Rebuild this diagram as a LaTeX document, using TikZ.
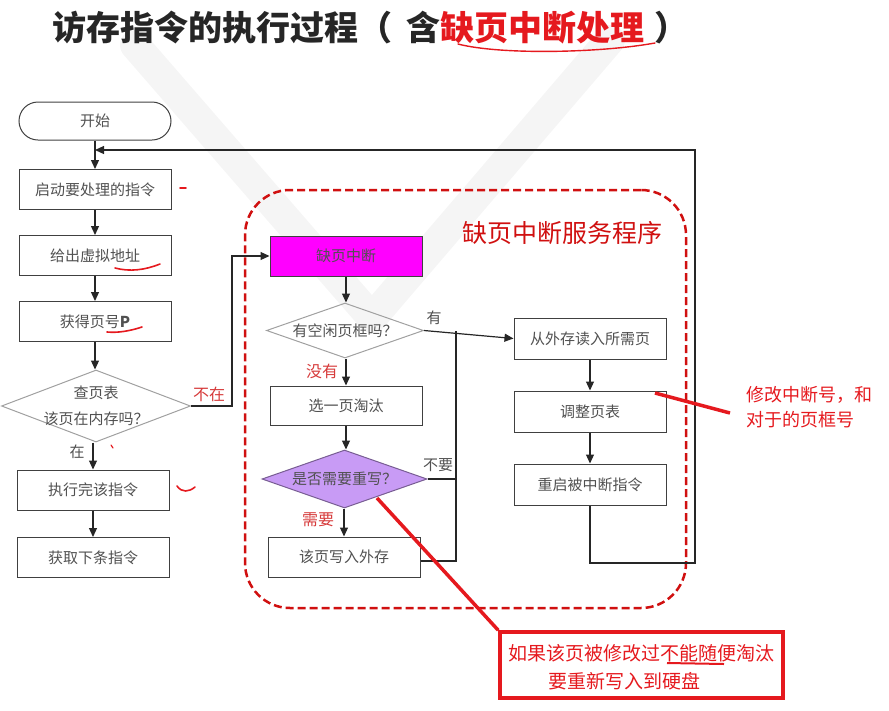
\documentclass[tikz,border=0pt]{standalone}
\usepackage{fontspec}
\newfontfamily\cjk{Noto Sans CJK SC}
\usetikzlibrary{shapes.geometric,arrows.meta}
\definecolor{boxtxt}{HTML}{505050}
\definecolor{boxline}{HTML}{404040}
\definecolor{dialine}{HTML}{A0A0A0}
\definecolor{annred}{HTML}{E5191E}
\definecolor{lblred}{HTML}{D63A3A}
\definecolor{dashred}{HTML}{D01010}
\definecolor{purp}{HTML}{C89BF5}
\definecolor{magbox}{HTML}{FF00FF}
\tikzset{
  box/.style={draw=boxline, line width=1pt, minimum width=152pt, minimum height=40pt, inner sep=0pt,
    font=\cjk\fontsize{15}{18}\selectfont, text=boxtxt},
  dia/.style={diamond, draw=dialine, line width=1pt, inner sep=0pt, aspect=2.6},
  diatxt/.style={font=\cjk\fontsize{15}{26}\selectfont, text=boxtxt, align=center, inner sep=0pt},
  conn/.style={line width=1.2pt, draw=black!85},
  arr/.style={conn, -{Triangle[length=9pt,width=8pt]}},
  lbl/.style={font=\cjk\fontsize{15}{18}\selectfont, text=boxtxt, inner sep=0pt},
  rlbl/.style={font=\cjk\fontsize{16}{18}\selectfont, text=lblred, inner sep=0pt},
  hand/.style={draw=annred, line width=1.6pt, line cap=round},
  ann/.style={font=\cjk\fontsize{19}{22}\selectfont, text=annred, inner sep=0pt},
}
\begin{document}
\begin{tikzpicture}[x=1pt,y=-1pt]
\useasboundingbox (0,0) rectangle (889,710);
% faint watermark
\draw[gray!8, line width=30pt, line cap=round, line join=round] (135,45) -- (372,318) -- (610,40);

% title
\node[anchor=west, inner sep=0pt, font=\cjk\bfseries\fontsize{34}{38}\selectfont, text=black!85] (title) at (52,28)
  {访存指令的执行过程（\hspace{14pt}含{\color{annred}缺页中断处理}\hspace{10pt}）};
\draw[hand, line width=1.4pt] (458,44) .. controls (500,55) and (600,53) .. (655,43);

% service region
\node[draw=dashred, dashed, dash pattern=on 8pt off 4pt, line width=2.5pt, rounded corners=45pt,
  minimum width=441pt, minimum height=418pt, inner sep=0pt] (svc) at (465.5,399) {};
\node[font=\cjk\fontsize{25}{28}\selectfont, text=dashred, inner sep=0pt] (svct) at (562,233) {缺页中断服务程序};

% left column
\node[box, rounded corners=19pt, minimum height=38pt] (start) at (95,121) {开始};
\node[box] (s1) at (95,189.5) {启动要处理的指令};
\node[box] (s2) at (95,255.5) {给出虚拟地址};
\node[box] (s3) at (95,321.5) {获得页号\textbf{P}};
\node[dia, minimum width=189pt, minimum height=72pt] (d1) at (96,406) {};
\node[diatxt] (d1t) at (d1) {查页表\\该页在内存吗？};
\node[box] (s4) at (93,490) {执行完该指令};
\node[box] (s5) at (93,557.5) {获取下条指令};

% middle column
\node[box, fill=magbox, minimum height=40pt] (int) at (346,256) {缺页中断};
\node[dia, minimum width=157pt, minimum height=55pt] (q1) at (345,330.5) {};
\node[diatxt] (q1t) at (q1) {有空闲页框吗？};
\node[box, minimum height=39pt] (sel) at (346,405.5) {选一页淘汰};
\node[dia, fill=purp, draw=purp!60!black, minimum width=165pt, minimum height=58pt] (q2) at (344.5,479) {};
\node[diatxt] (q2t) at (q2) {是否需要重写？};
\node[box] (wr) at (344,557) {该页写入外存};

% right column
\node[box, minimum height=41pt] (r1) at (590,338.5) {从外存读入所需页};
\node[box, minimum height=41pt] (r2) at (590,411.5) {调整页表};
\node[box, minimum height=41pt] (r3) at (590,484.5) {重启被中断指令};

% helper coordinates
\coordinate (j1) at (232,406);
\coordinate (j2) at (456,330.5);
\coordinate (fb) at (95,150);
\coordinate (c3) at (695,563);

% connectors left
\draw[arr] (start.south) -- (s1.north);
\draw[arr] (s1) -- (s2);
\draw[arr] (s2) -- (s3);
\draw[arr] (s3.south) -- (s3.south |- d1.north);
\draw[arr] (s4.north |- d1.south) -- (s4.north);
\draw[arr] (s4) -- (s5);
\draw[arr] (d1.east) -- (j1) |- (int.west);

% connectors middle
\draw[arr] (int) -- (q1.north -| int);
\draw[arr] (q1.east) -- (r1.west);
\draw[arr] (q1.south -| sel) -- (sel.north);
\draw[arr] (sel) -- (q2.north -| sel);
\draw[arr] (q2.south -| wr) -- (wr.north);
\draw[conn] (q2.east) -- (q2.east -| j2);
\draw[conn] ([yshift=-4pt]wr.east) -| (j2);

% connectors right
\draw[arr] (r1) -- (r2);
\draw[arr] (r2) -- (r3);
\draw[arr] (r3.south) |- (c3) |- (fb);

% branch labels
\node[rlbl] (lnz) at (209,394) {不在};
\node[lbl] (lz) at (77,452) {在};
\node[lbl] (ly) at (434,318) {有};
\node[rlbl] (lmy) at (322,371) {没有};
\node[lbl] (lby) at (438,465) {不要};
\node[rlbl] (lxy) at (318,520) {需要};

% hand-drawn red marks
\draw[hand] (180,188) -- (186,188);
\draw[hand] (115,268) .. controls (130,272) and (145,270) .. (160,264);
\draw[hand] (107,332) .. controls (118,333) and (130,331) .. (142,327);
\draw[hand, line width=1.2pt] (111,445) -- (113,448);
\draw[hand] (177,486) .. controls (182,493) and (189,492) .. (195,487);

% annotations
\draw[annred, line width=3.5pt] (655,393) -- (730,413);
\node[ann, font=\cjk\fontsize{18}{22}\selectfont, anchor=west] (a1) at (746,395) {修改中断号，和};
\node[ann, font=\cjk\fontsize{18}{22}\selectfont, anchor=west] (a2) at (746,420) {对于的页框号};

\node[draw=annred, line width=3.5pt, minimum width=283pt, minimum height=66pt, inner sep=0pt] (note) at (641.5,665) {};
\draw[annred, line width=3.5pt] (377,498) -- (note.north west);
\node[ann, anchor=west] (n1) at (508,653) {如果该页被修改过不能随便淘汰};
\node[ann, anchor=west] (n2) at (548,681) {要重新写入到硬盘};
\draw[annred, line width=2pt] (667,663) -- (724,664);
\end{tikzpicture}
\end{document}
